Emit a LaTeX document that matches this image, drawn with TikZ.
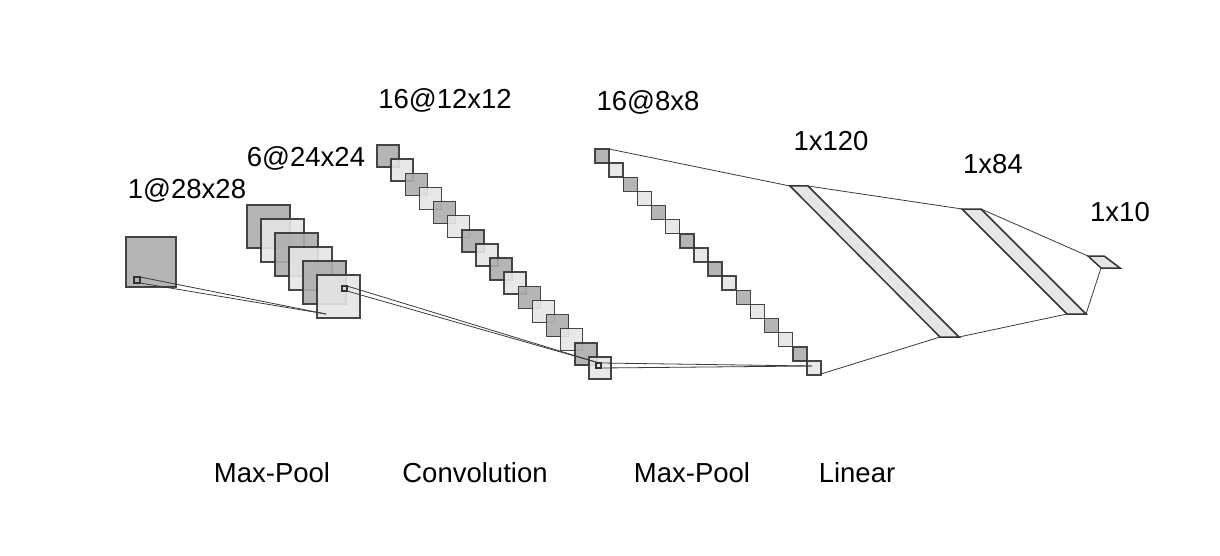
\documentclass[tikz,border=0pt]{standalone}
\usepackage{fontspec}
\setmainfont{Liberation Sans}
\usepackage{tikz}
\definecolor{MapDark}{HTML}{ADADAD}
\definecolor{MapLight}{HTML}{E6E6E6}
\definecolor{EdgeGray}{HTML}{333333}
\definecolor{LinkGray}{HTML}{3A3A3A}
\tikzset{
  fmap/.style={draw=EdgeGray, line width=1.5pt, fill opacity=0.9, draw opacity=0.9},
  kernel/.style={draw=EdgeGray, line width=1.3pt},
  link/.style={draw=LinkGray, line width=0.8pt},
  dense/.style={draw=EdgeGray, line width=1.5pt, fill=MapLight},
}
\begin{document}
\begin{tikzpicture}[x=1pt,y=-1pt, every node/.style={font=\fontsize{27.5}{33}\selectfont, inner sep=0pt}]
  \useasboundingbox (0,0) rectangle (1220,556);
  % input
  \draw[fmap, fill=MapDark] (126,237) rectangle (176,287);
  \draw[kernel] (134,277) rectangle (140,283);
  % 6@24x24
  \foreach \i in {0,...,5} {
    \ifodd\i \def\mapfill{MapLight}\else \def\mapfill{MapDark}\fi
    \draw[fmap, fill=\mapfill] (247+14*\i,205+14*\i) rectangle ++(43,43);
  }
  \draw[kernel] (342,286) rectangle (347,291);
  % 16@12x12
  \foreach \i in {0,...,15} {
    \ifodd\i \def\mapfill{MapLight}\else \def\mapfill{MapDark}\fi
    \draw[fmap, fill=\mapfill] (377+14.13*\i,145+14.13*\i) rectangle ++(22,22);
  }
  \draw[kernel] (596,363) rectangle (601,368);
  % 16@8x8
  \foreach \i in {0,...,15} {
    \ifodd\i \def\mapfill{MapLight}\else \def\mapfill{MapDark}\fi
    \draw[fmap, fill=\mapfill] (595+14.13*\i,149+14.13*\i) rectangle ++(14,14);
  }
  % dense layers
  \coordinate (fcA1) at (790,186);  \coordinate (fcA2) at (808,186);
  \coordinate (fcA3) at (959,337);  \coordinate (fcA4) at (940,337);
  \coordinate (fcB1) at (962,209);  \coordinate (fcB2) at (981,209);
  \coordinate (fcB3) at (1086,314); \coordinate (fcB4) at (1067,314);
  \coordinate (outC1) at (1088,256); \coordinate (outC2) at (1104,256);
  \coordinate (outC3) at (1120,268); \coordinate (outC4) at (1101,268);
  \draw[dense] (fcA1) -- (fcA2) -- (fcA3) -- (fcA4) -- cycle;
  \draw[dense] (fcB1) -- (fcB2) -- (fcB3) -- (fcB4) -- cycle;
  \draw[dense] (outC1) -- (outC2) -- (outC3) -- (outC4) -- cycle;
  % kernel links
  \coordinate (inKa) at (140,277);  \coordinate (inKb) at (140,283);
  \coordinate (poolT) at (326,314);
  \coordinate (poolKa) at (347,286); \coordinate (poolKb) at (347,291);
  \coordinate (convT) at (599,363);
  \coordinate (convKa) at (601,363); \coordinate (convKb) at (601,368);
  \coordinate (mapT) at (812,366);
  \coordinate (mapTop) at (609,149); \coordinate (mapBot) at (821,374);
  \draw[link] (inKa) -- (poolT);
  \draw[link] (inKb) -- (poolT);
  \draw[link] (poolKa) -- (convT);
  \draw[link] (poolKb) -- (convT);
  \draw[link] (convKa) -- (mapT);
  \draw[link] (convKb) -- (mapT);
  \draw[link] (mapTop) -- (fcA1);
  \draw[link] (mapBot) -- (fcA4);
  \draw[link] (fcA2) -- (fcB1);
  \draw[link] (fcA3) -- (fcB4);
  \draw[link] (fcB2) -- (outC1);
  \draw[link] (fcB3) -- (outC4);
  % labels
  \node[anchor=base] (lblIn) at (187,198) {1@28x28};
  \node[anchor=base] (lblPoolA) at (306,167) {6@24x24};
  \node[anchor=base] (lblConv) at (445,109) {16@12x12};
  \node[anchor=base] (lblPoolB) at (648,111) {16@8x8};
  \node[anchor=base] (lblFcA) at (831,151) {1x120};
  \node[anchor=base] (lblFcB) at (993,174) {1x84};
  \node[anchor=base] (lblOut) at (1120,221) {1x10};
  \node[anchor=base] (opPoolA) at (272,482) {Max-Pool};
  \node[anchor=base] (opConv) at (475,482) {Convolution};
  \node[anchor=base] (opPoolB) at (692,482) {Max-Pool};
  \node[anchor=base] (opLin) at (857,482) {Linear};
\end{tikzpicture}
\end{document}
